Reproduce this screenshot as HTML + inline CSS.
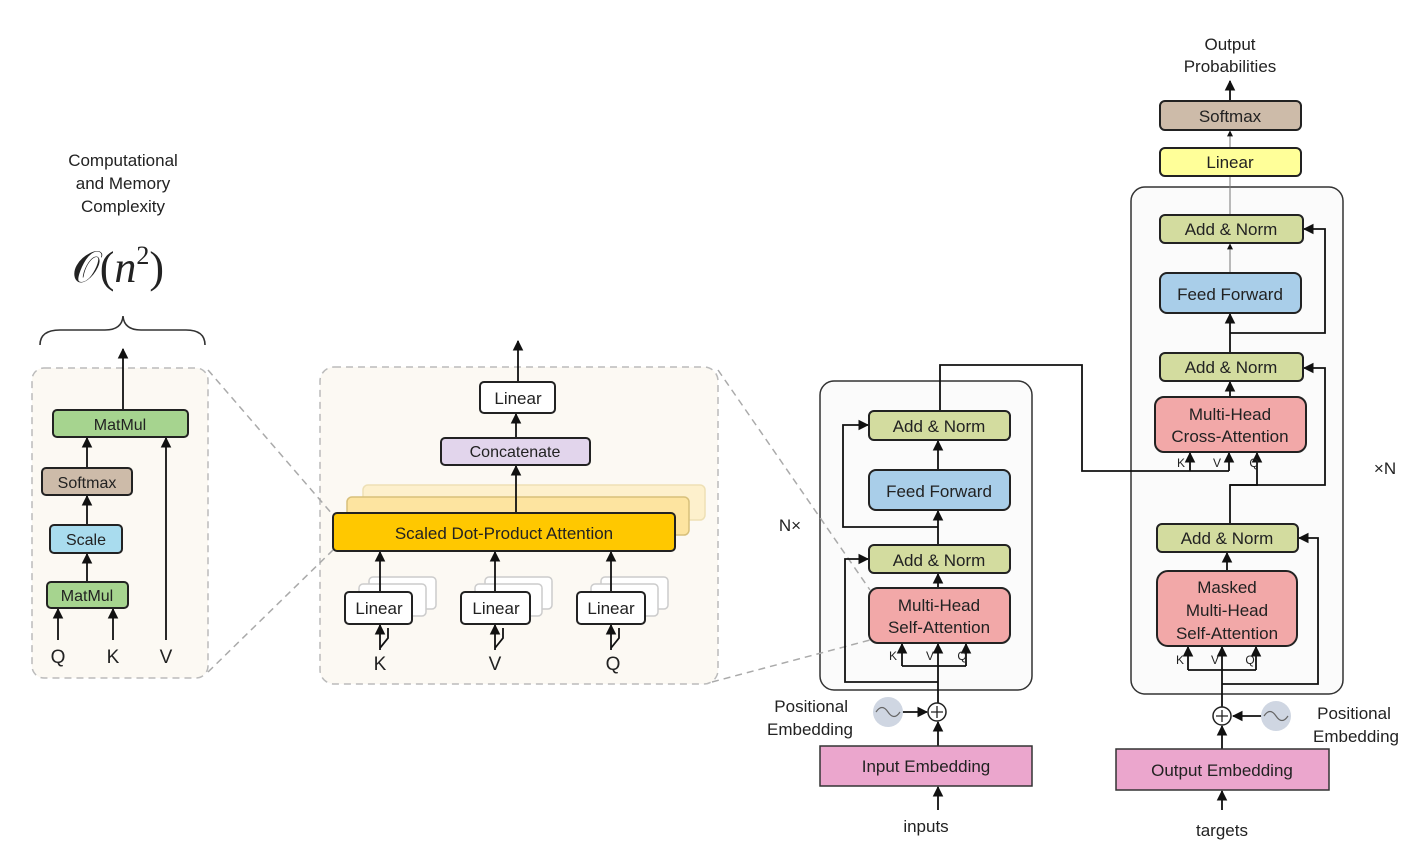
<!DOCTYPE html>
<html><head><meta charset="utf-8"><style>
html,body{margin:0;padding:0;background:#fff;}
svg{display:block;}
text{font-family:"Liberation Sans",sans-serif;fill:#222;}
</style></head><body>
<svg width="1418" height="855" viewBox="0 0 1418 855" xmlns="http://www.w3.org/2000/svg">
<defs>
<marker id="a" viewBox="0 0 10 10" refX="9" refY="5" markerWidth="6" markerHeight="6" orient="auto"><path d="M0,0 L10,5 L0,10 z" fill="#111"/></marker>
</defs>
<g font-size="17" text-anchor="middle">
<text x="123" y="166">Computational</text>
<text x="123" y="189">and Memory</text>
<text x="123" y="212">Complexity</text>
<text x="118" y="282" font-size="44" style="font-family:'Liberation Serif',serif" fill="#333">𝒪(<tspan font-style="italic">n</tspan><tspan font-size="26" dy="-18">2</tspan><tspan dy="18">)</tspan></text>
<path d="M40,345 Q40,330 60,330 L105,330 Q122,330 123,316 Q124,330 141,330 L186,330 Q205,330 205,345" fill="none" stroke="#333" stroke-width="1.6"/>

<!-- left panel -->
<rect x="32" y="368" width="176" height="310" rx="12" fill="#fcf9f3" stroke="#bbb" stroke-dasharray="7,5" stroke-width="1.5"/>
<g stroke="#111" stroke-width="1.8" fill="none">
<line x1="123" y1="410" x2="123" y2="349" marker-end="url(#a)"/>
<line x1="87" y1="468" x2="87" y2="438" marker-end="url(#a)"/>
<line x1="87" y1="525" x2="87" y2="496" marker-end="url(#a)"/>
<line x1="87" y1="582" x2="87" y2="554" marker-end="url(#a)"/>
<line x1="58" y1="640" x2="58" y2="609" marker-end="url(#a)"/>
<line x1="113" y1="640" x2="113" y2="609" marker-end="url(#a)"/>
<line x1="166" y1="640" x2="166" y2="438" marker-end="url(#a)"/>
</g>
<g stroke="#222" stroke-width="2">
<rect x="53" y="410" width="135" height="27" rx="4" fill="#a6d48f"/>
<rect x="42" y="468" width="90" height="27" rx="4" fill="#cdbba9"/>
<rect x="50" y="525" width="72" height="28" rx="4" fill="#a9dcee"/>
<rect x="47" y="582" width="81" height="26" rx="4" fill="#a6d48f"/>
</g>
<text x="120" y="430" font-size="16">MatMul</text>
<text x="87" y="488" font-size="16">Softmax</text>
<text x="86" y="545" font-size="16">Scale</text>
<text x="87" y="601" font-size="16">MatMul</text>
<text x="58" y="663" font-size="19">Q</text>
<text x="113" y="663" font-size="19">K</text>
<text x="166" y="663" font-size="19">V</text>

<!-- middle panel -->
<rect x="320" y="367" width="398" height="317" rx="14" fill="#fcf9f3" stroke="#bbb" stroke-dasharray="7,5" stroke-width="1.5"/>
<rect x="363" y="485" width="342" height="35" rx="5" fill="#fdf0cc" stroke="#eee0b5" stroke-width="1.5"/>
<rect x="347" y="497" width="342" height="38" rx="5" fill="#fde4a0" stroke="#d8c07a" stroke-width="1.5"/>
<g fill="#fff" stroke="#ccc" stroke-width="1.5">
<rect x="369" y="577" width="67" height="32" rx="4"/><rect x="359" y="584" width="67" height="32" rx="4"/>
<rect x="485" y="577" width="67" height="32" rx="4"/><rect x="475" y="584" width="67" height="32" rx="4"/>
<rect x="601" y="577" width="67" height="32" rx="4"/><rect x="591" y="584" width="67" height="32" rx="4"/>
</g>
<g stroke="#111" stroke-width="1.8" fill="none">
<line x1="518" y1="382" x2="518" y2="341" marker-end="url(#a)"/>
<line x1="516" y1="438" x2="516" y2="414" marker-end="url(#a)"/>
<line x1="516" y1="513" x2="516" y2="466" marker-end="url(#a)"/>
<line x1="380" y1="592" x2="380" y2="552" marker-end="url(#a)"/>
<line x1="495" y1="592" x2="495" y2="552" marker-end="url(#a)"/>
<line x1="611" y1="592" x2="611" y2="552" marker-end="url(#a)"/>
<line x1="380" y1="650" x2="380" y2="625" marker-end="url(#a)"/>
<line x1="495" y1="650" x2="495" y2="625" marker-end="url(#a)"/>
<line x1="611" y1="650" x2="611" y2="625" marker-end="url(#a)"/>
<path d="M380,648 L388,638 L388,628 M495,648 L503,638 L503,628 M611,648 L619,638 L619,628"/>
</g>
<g stroke="#222" stroke-width="2">
<rect x="480" y="382" width="75" height="31" rx="4" fill="#fff"/>
<rect x="441" y="438" width="149" height="27" rx="4" fill="#e2d5ec"/>
<rect x="333" y="513" width="342" height="38" rx="4" fill="#ffc800"/>
<rect x="345" y="592" width="67" height="32" rx="4" fill="#fff"/>
<rect x="461" y="592" width="69" height="32" rx="4" fill="#fff"/>
<rect x="577" y="592" width="68" height="32" rx="4" fill="#fff"/>
</g>
<text x="518" y="404">Linear</text>
<text x="515" y="457" font-size="16">Concatenate</text>
<text x="504" y="539">Scaled Dot-Product Attention</text>
<text x="379" y="614">Linear</text>
<text x="496" y="614">Linear</text>
<text x="611" y="614">Linear</text>
<text x="380" y="670" font-size="19">K</text>
<text x="495" y="670" font-size="19">V</text>
<text x="613" y="670" font-size="19">Q</text>

<!-- boxes -->
<rect x="820" y="381" width="212" height="309" rx="14" fill="#fbfbfb" stroke="#333" stroke-width="1.5"/>
<rect x="1131" y="187" width="212" height="507" rx="14" fill="#fbfbfb" stroke="#333" stroke-width="1.5"/>

<!-- dashed connectors -->
<g stroke="#aaa" stroke-width="1.5" stroke-dasharray="7,5" fill="none">
<line x1="208" y1="370" x2="333" y2="515"/>
<line x1="208" y1="672" x2="333" y2="550"/>
<line x1="718" y1="370" x2="870" y2="590"/>
<line x1="712" y1="682" x2="870" y2="640"/>
</g>

<!-- encoder -->
<g stroke="#111" stroke-width="1.8" fill="none">
<line x1="938" y1="810" x2="938" y2="787" marker-end="url(#a)"/>
<line x1="938" y1="746" x2="938" y2="722" marker-end="url(#a)"/>
<line x1="902" y1="712" x2="927" y2="712" marker-end="url(#a)"/>
<line x1="938" y1="703" x2="938" y2="644" marker-end="url(#a)"/>
<path d="M902,666 L966,666"/>
<line x1="902" y1="666" x2="902" y2="644" marker-end="url(#a)"/>
<line x1="966" y1="666" x2="966" y2="644" marker-end="url(#a)"/>
<path d="M938,682 L845,682 L845,559 L868,559" marker-end="url(#a)"/>
<line x1="938" y1="588" x2="938" y2="574" marker-end="url(#a)"/>
<line x1="938" y1="545" x2="938" y2="511" marker-end="url(#a)"/>
<path d="M938,527 L843,527 L843,425 L868,425" marker-end="url(#a)"/>
<line x1="938" y1="470" x2="938" y2="441" marker-end="url(#a)"/>
<path d="M940,411 L940,365 L1082,365 L1082,471 L1229,471"/>
<line x1="1190" y1="471" x2="1190" y2="453" marker-end="url(#a)"/>
<line x1="1229" y1="471" x2="1229" y2="453" marker-end="url(#a)"/>
</g>
<g stroke="#222" stroke-width="2">
<rect x="869" y="411" width="141" height="29" rx="5" fill="#d3dc9f"/>
<rect x="869" y="470" width="141" height="40" rx="7" fill="#a9cee9"/>
<rect x="869" y="545" width="141" height="28" rx="5" fill="#d3dc9f"/>
<rect x="869" y="588" width="141" height="55" rx="9" fill="#f2a8a8"/>
</g>
<text x="939" y="432">Add &amp; Norm</text>
<text x="939" y="497">Feed Forward</text>
<text x="939" y="566">Add &amp; Norm</text>
<text x="939" y="611">Multi-Head</text>
<text x="939" y="633">Self-Attention</text>
<text x="893" y="660" font-size="12" fill="#555">K</text>
<text x="930" y="660" font-size="12" fill="#555">V</text>
<text x="962" y="660" font-size="12" fill="#555">Q</text>
<text x="790" y="531">N×</text>
<text x="1385" y="474">×N</text>

<circle cx="888" cy="712" r="15" fill="#cfd6e2"/>
<path d="M876,712 Q882,703 888,712 T900,712" fill="none" stroke="#666" stroke-width="1.2"/>
<circle cx="937" cy="712" r="9" fill="#fff" stroke="#222" stroke-width="1.5"/>
<path d="M931,712 h12 M937,706 v12" stroke="#222" stroke-width="1.3"/>
<g text-anchor="end"><text x="848" y="712">Positional</text><text x="853" y="735">Embedding</text></g>
<rect x="820" y="746" width="212" height="40" fill="#eba6cd" stroke="#333" stroke-width="1.5"/>
<text x="926" y="772">Input Embedding</text>
<text x="926" y="832">inputs</text>

<!-- decoder -->
<g stroke="#111" stroke-width="1.8" fill="none">
<line x1="1230" y1="101" x2="1230" y2="81" marker-end="url(#a)"/>
<line x1="1230" y1="148" x2="1230" y2="131" stroke="#777" stroke-width="1" marker-end="url(#a)"/>
<line x1="1230" y1="215" x2="1230" y2="177" stroke="#777" stroke-width="1"/>
<line x1="1230" y1="273" x2="1230" y2="244" stroke="#777" stroke-width="1" marker-end="url(#a)"/>
<line x1="1230" y1="353" x2="1230" y2="314" marker-end="url(#a)"/>
<path d="M1230,333 L1325,333 L1325,229 L1304,229" marker-end="url(#a)"/>
<line x1="1230" y1="397" x2="1230" y2="382" marker-end="url(#a)"/>
<path d="M1230,524 L1230,485 L1257,485 L1257,453" marker-end="url(#a)"/>
<path d="M1230,485 L1325,485 L1325,368 L1304,368" marker-end="url(#a)"/>
<line x1="1227" y1="571" x2="1227" y2="553" marker-end="url(#a)"/>
<line x1="1222" y1="810" x2="1222" y2="791" marker-end="url(#a)"/>
<line x1="1222" y1="749" x2="1222" y2="726" marker-end="url(#a)"/>
<line x1="1262" y1="716" x2="1233" y2="716" marker-end="url(#a)"/>
<line x1="1222" y1="707" x2="1222" y2="647" marker-end="url(#a)"/>
<path d="M1188,670 L1256,670"/>
<line x1="1188" y1="670" x2="1188" y2="647" marker-end="url(#a)"/>
<line x1="1256" y1="670" x2="1256" y2="647" marker-end="url(#a)"/>
<path d="M1222,684 L1318,684 L1318,538 L1299,538" marker-end="url(#a)"/>
</g>
<g stroke="#222" stroke-width="2">
<rect x="1160" y="101" width="141" height="29" rx="5" fill="#cdbba9"/>
<rect x="1160" y="148" width="141" height="28" rx="5" fill="#ffff99"/>
<rect x="1160" y="215" width="143" height="28" rx="5" fill="#d3dc9f"/>
<rect x="1160" y="273" width="141" height="40" rx="7" fill="#a9cee9"/>
<rect x="1160" y="353" width="143" height="28" rx="5" fill="#d3dc9f"/>
<rect x="1155" y="397" width="151" height="55" rx="9" fill="#f2a8a8"/>
<rect x="1157" y="524" width="141" height="28" rx="5" fill="#d3dc9f"/>
<rect x="1157" y="571" width="140" height="75" rx="11" fill="#f2a8a8"/>
</g>
<text x="1230" y="50">Output</text>
<text x="1230" y="72">Probabilities</text>
<text x="1230" y="122">Softmax</text>
<text x="1230" y="168">Linear</text>
<text x="1231" y="235">Add &amp; Norm</text>
<text x="1230" y="300">Feed Forward</text>
<text x="1231" y="373">Add &amp; Norm</text>
<text x="1230" y="420">Multi-Head</text>
<text x="1230" y="442">Cross-Attention</text>
<text x="1181" y="467" font-size="12" fill="#555">K</text>
<text x="1217" y="467" font-size="12" fill="#555">V</text>
<text x="1254" y="467" font-size="12" fill="#555">Q</text>
<text x="1227" y="544">Add &amp; Norm</text>
<text x="1227" y="593">Masked</text>
<text x="1227" y="616">Multi-Head</text>
<text x="1227" y="639">Self-Attention</text>
<text x="1180" y="664" font-size="12" fill="#555">K</text>
<text x="1215" y="664" font-size="12" fill="#555">V</text>
<text x="1250" y="664" font-size="12" fill="#555">Q</text>

<circle cx="1276" cy="716" r="15" fill="#cfd6e2"/>
<path d="M1264,716 Q1270,707 1276,716 T1288,716" fill="none" stroke="#666" stroke-width="1.2"/>
<circle cx="1222" cy="716" r="9" fill="#fff" stroke="#222" stroke-width="1.5"/>
<path d="M1216,716 h12 M1222,710 v12" stroke="#222" stroke-width="1.3"/>
<text x="1354" y="719">Positional</text>
<text x="1356" y="742">Embedding</text>
<rect x="1116" y="749" width="213" height="41" fill="#eba6cd" stroke="#333" stroke-width="1.5"/>
<text x="1222" y="776">Output Embedding</text>
<text x="1222" y="836">targets</text>
</g>
</svg>
</body></html>
